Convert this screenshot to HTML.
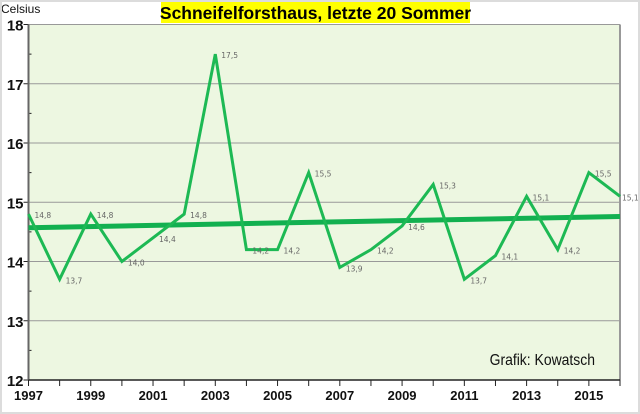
<!DOCTYPE html>
<html><head><meta charset="utf-8"><style>
html,body{margin:0;padding:0;background:#fff}
#wrap{position:relative;width:640px;height:414px;box-sizing:border-box;border:2px solid #dcdcdc;background:#fff;overflow:hidden}
svg{position:absolute;left:-2px;top:-2px}
</style></head><body>
<div id="wrap">
<svg id="c" width="640" height="414"></svg>
</div>
<script>
const years=[1997,1998,1999,2000,2001,2002,2003,2004,2005,2006,2007,2008,2009,2010,2011,2012,2013,2014,2015,2016];
const temps=[14.8,13.7,14.8,14.0,14.4,14.8,17.5,14.2,14.2,15.5,13.9,14.2,14.6,15.3,13.7,14.1,15.1,14.2,15.5,15.1];
const trendStart=14.57, trendEnd=14.76;
const yTicks=[12,13,14,15,16,17,18];
const xLabelYears=[1997,1999,2001,2003,2005,2007,2009,2011,2013,2015];

const L=28.5,R=620,T=24.5,B=380;
const x=v=>L+(v-1997)*(R-L)/19;
const y=v=>B-(v-12)*(B-T)/6;
const ns='http://www.w3.org/2000/svg';
const svg=document.getElementById('c');
function mk(t,a,p){const e=document.createElementNS(ns,t);for(const k in a)e.setAttribute(k,a[k]);(p||svg).appendChild(e);return e;}

let bg=mk('rect',{x:L,y:T,width:R-L,height:B-T,fill:'#edf7e1'});


let rb=mk('line',{x1:R,y1:T,x2:R,y2:B,stroke:'#999','stroke-width':2});


let tb=mk('line',{x1:L,y1:T,x2:R,y2:T,stroke:'#999','stroke-width':1});



yTicks.forEach(v=>{
  if(v>12&&v<18){let g=mk('line',{x1:L,y1:y(v),x2:R,y2:y(v),stroke:'#999','stroke-width':1});
  
  }
  let t=mk('line',{x1:L-5,y1:y(v),x2:L,y2:y(v),stroke:'#222','stroke-width':1});
  
  
  if(v<18){let m=mk('line',{x1:L,y1:y(v+0.5),x2:L+3,y2:y(v+0.5),stroke:'#222','stroke-width':1});
  
  }
  let lb=mk('text',{x:L-5,y:y(v)+6,'text-anchor':'end','font-family':'Liberation Sans, sans-serif','font-size':15,'font-weight':'bold',fill:'#111'});
  lb.textContent=v;
  
  
});
let ya=mk('line',{x1:L,y1:T,x2:L,y2:B,stroke:'#666','stroke-width':2});


let xa=mk('line',{x1:L,y1:B,x2:R,y2:B,stroke:'#222','stroke-width':1.5});


years.forEach(yr=>{
  let t=mk('line',{x1:x(yr),y1:B,x2:x(yr),y2:B+6,stroke:'#222','stroke-width':1});
  
  
});
xLabelYears.forEach(yr=>{
  let lb=mk('text',{x:x(yr),y:B+20,'text-anchor':'middle','font-family':'Liberation Sans, sans-serif','font-size':13,'font-weight':'bold',fill:'#111'});
  lb.textContent=yr;
  
  
});

let tr=mk('line',{x1:x(1997),y1:y(trendStart),x2:x(2016),y2:y(trendEnd),stroke:'#12b050','stroke-width':5});


let pts=years.map((yr,i)=>x(yr)+','+y(temps[i])).join(' ');
let ln=mk('polyline',{points:pts,fill:'none',stroke:'#1db954','stroke-width':3,'stroke-linejoin':'miter'});


years.forEach((yr,i)=>{
  let lx=Math.min(x(yr)+6,622);
  let lb=mk('text',{x:lx,y:y(temps[i])+4,'font-family':'DejaVu Sans, sans-serif','font-size':7.5,fill:'#666'});
  lb.textContent=temps[i].toFixed(1).replace('.',',');
  
  
});

let tbg=mk('rect',{x:161,y:1,width:309,height:22,fill:'#ffff00'});


let tt=mk('text',{x:315.5,y:19,'text-anchor':'middle','font-family':'Liberation Sans, sans-serif','font-size':17.5,'font-weight':'bold',fill:'#000'});
tt.textContent='Schneifelforsthaus, letzte 20 Sommer';


let yt=mk('text',{x:1,y:13,'font-family':'Liberation Sans, sans-serif','font-size':12,fill:'#111'});
yt.textContent='Celsius';


let cr=mk('text',{x:490,y:365,'font-family':'Liberation Sans, sans-serif','font-size':15.5,fill:'#111',transform:'scale(0.9,1) translate(54,0)'});
cr.textContent='Grafik: Kowatsch';


</script>
</body></html>
